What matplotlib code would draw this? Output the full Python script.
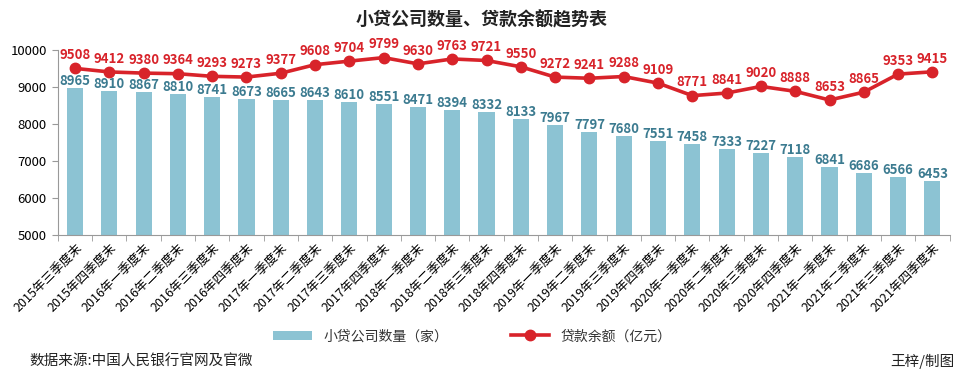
import numpy as np
import matplotlib
matplotlib.use('Agg')
from matplotlib import pyplot as plt
from matplotlib.ticker import FixedLocator

plt.rcParams['font.family'] = ['Noto Sans CJK SC', 'DejaVu Sans']

# 数据
quarters = ['2015年三季度末', '2015年四季度末', '2016年一季度末', '2016年二季度末',
            '2016年三季度末', '2016年四季度末', '2017年一季度末', '2017年二季度末',
            '2017年三季度末', '2017年四季度末', '2018年一季度末', '2018年二季度末',
            '2018年三季度末', '2018年四季度末', '2019年一季度末', '2019年二季度末',
            '2019年三季度末', '2019年四季度末', '2020年一季度末', '2020年二季度末',
            '2020年三季度末', '2020年四季度末', '2021年一季度末', '2021年二季度末',
            '2021年三季度末', '2021年四季度末']
company_count = [8965, 8910, 8867, 8810, 8741, 8673, 8665, 8643, 8610, 8551, 8471,
                 8394, 8332, 8133, 7967, 7797, 7680, 7551, 7458, 7333, 7227, 7118,
                 6841, 6686, 6566, 6453]
loan_balance = [9508, 9412, 9380, 9364, 9293, 9273, 9377, 9608, 9704, 9799, 9630,
                9763, 9721, 9550, 9272, 9241, 9288, 9109, 8771, 8841, 9020, 8888,
                8653, 8865, 9353, 9415]

bar_color = '#8cc3d3'
bar_text = '#3c7b90'
line_color = '#d8232a'

fig = plt.figure(figsize=(9.64, 3.83), dpi=100)
ax = fig.add_axes([0.060, 0.386, 0.925, 0.483])

x = np.arange(len(quarters))
bars = ax.bar(x, company_count, width=0.47, color=bar_color, label='小贷公司数量（家）', zorder=2)
line, = ax.plot(x, loan_balance, color=line_color, lw=2.6, marker='o', ms=7.5,
                label='贷款余额（亿元）', zorder=3)

for i, v in enumerate(company_count):
    ax.annotate(str(v), (x[i], v), xytext=(0, 0), textcoords='offset points',
                ha='center', va='bottom', fontsize=9.5, fontweight='bold', color=bar_text)
for i, v in enumerate(loan_balance):
    ax.annotate(str(v), (x[i], v), xytext=(0, 4.5), textcoords='offset points',
                ha='center', va='bottom', fontsize=9.5, fontweight='bold', color=line_color)

ax.set_xlim(-0.5, len(quarters) - 0.5)
ax.set_ylim(5000, 10000)
ax.set_yticks(np.arange(5000, 10001, 1000))
ax.tick_params(axis='y', labelsize=9.5, length=4, color='#999999', pad=4)
ax.set_xticks(x)
ax.set_xticklabels(quarters, rotation=45, ha='right', rotation_mode='anchor', fontsize=9)
ax.tick_params(axis='x', length=0, pad=4)
ax.xaxis.set_minor_locator(FixedLocator(np.arange(-0.5, len(quarters), 1)))
ax.tick_params(axis='x', which='minor', length=4, color='#999999')

for s in ['top', 'right']:
    ax.spines[s].set_visible(False)
for s in ['left', 'bottom']:
    ax.spines[s].set_color('#999999')

fig.text(0.5, 0.948, '小贷公司数量、贷款余额趋势表', ha='center', va='center',
         fontsize=13, fontweight='bold', color='#222222')

fig.legend(handles=[bars, line], loc='center', bbox_to_anchor=(0.49, 0.122), ncol=2,
           frameon=False, fontsize=10, handlelength=2.8, columnspacing=4.5,
           handleheight=0.7, labelcolor='#333333')

fig.text(0.031, 0.055, '数据来源:中国人民银行官网及官微', ha='left', va='center',
         fontsize=10.5, color='#222222')
fig.text(0.99, 0.055, '王梓/制图', ha='right', va='center', fontsize=10.5, color='#222222')

fig.savefig('out.png', dpi=100)
